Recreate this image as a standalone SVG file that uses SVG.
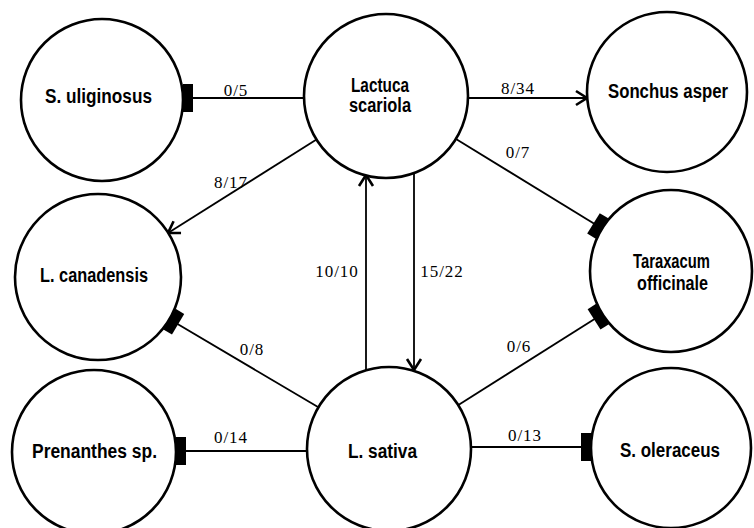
<svg xmlns="http://www.w3.org/2000/svg" width="754" height="528" viewBox="0 0 754 528">
<style>
.node{fill:#fff;stroke:#000;stroke-width:2.6}
.nl{font-family:"Liberation Sans Narrow","Liberation Sans",Arial,sans-serif;font-weight:bold;font-size:20px;text-anchor:middle;fill:#000}
.edge{stroke:#000;stroke-width:1.8;fill:none}
.el{font-family:"Liberation Serif","Times New Roman",serif;font-size:17px;letter-spacing:1px;text-anchor:middle;fill:#000}
</style>
<defs>
<marker id="arrow" markerUnits="userSpaceOnUse" markerWidth="16" markerHeight="18" viewBox="-14 -9 16 18" refX="0" refY="0" orient="auto">
<path d="M-11,-7 L0,0 L-11,7" fill="none" stroke="#000" stroke-width="2.6"/>
</marker>
<marker id="barH" markerUnits="userSpaceOnUse" markerWidth="12" markerHeight="30" viewBox="-11 -15 12 30" refX="0" refY="0" orient="auto">
<rect x="-10" y="-14" width="10" height="28" fill="#000"/>
</marker>
<marker id="barD" markerUnits="userSpaceOnUse" markerWidth="13" markerHeight="28" viewBox="-12 -14 13 28" refX="0" refY="0" orient="auto">
<rect x="-10" y="-12" width="10" height="24" fill="#000"/>
</marker>
</defs>
<g id="connectors">
<line class="edge" x1="304" y1="98" x2="183" y2="98" marker-end="url(#barH)"/>
<line class="edge" x1="468" y1="98" x2="587" y2="98" marker-end="url(#arrow)"/>
<line class="edge" x1="316.5" y1="139.6" x2="168" y2="233" marker-end="url(#arrow)"/>
<line class="edge" x1="456" y1="139" x2="602" y2="228.6" marker-end="url(#barD)"/>
<line class="edge" x1="366" y1="370" x2="366" y2="175" marker-end="url(#arrow)"/>
<line class="edge" x1="414" y1="173" x2="414" y2="370" marker-end="url(#arrow)"/>
<line class="edge" x1="318.4" y1="407.3" x2="169.5" y2="319.2" marker-end="url(#barD)"/>
<line class="edge" x1="458.4" y1="405" x2="602.5" y2="314" marker-end="url(#barD)"/>
<line class="edge" x1="307" y1="451" x2="176" y2="451" marker-end="url(#barH)"/>
<line class="edge" x1="471" y1="447" x2="591" y2="447" marker-end="url(#barH)"/>
<text class="el" x="236" y="96">0/5</text>
<text class="el" x="518" y="94">8/34</text>
<text class="el" x="231" y="188">8/17</text>
<text class="el" x="518" y="158">0/7</text>
<text class="el" x="337" y="277">10/10</text>
<text class="el" x="442" y="277">15/22</text>
<text class="el" x="252" y="355">0/8</text>
<text class="el" x="231" y="443">0/14</text>
<text class="el" x="519" y="352">0/6</text>
<text class="el" x="525" y="441">0/13</text>
</g>
<g id="lactuca-scariola">
<circle class="node" cx="386" cy="96" r="82"/>
<text class="nl" x="380" y="92" textLength="58" lengthAdjust="spacingAndGlyphs">Lactuca</text>
<text class="nl" x="380" y="112" textLength="62" lengthAdjust="spacingAndGlyphs">scariola</text>
</g>
<g id="s-uliginosus">
<circle class="node" cx="102" cy="100" r="81"/>
<text class="nl" x="98.5" y="103" textLength="107" lengthAdjust="spacingAndGlyphs">S. uliginosus</text>
</g>
<g id="sonchus-asper">
<circle class="node" cx="667" cy="92" r="80"/>
<text class="nl" x="668" y="98" textLength="120" lengthAdjust="spacingAndGlyphs">Sonchus asper</text>
</g>
<g id="l-canadensis">
<circle class="node" cx="98" cy="277" r="83"/>
<text class="nl" x="94" y="282" textLength="108" lengthAdjust="spacingAndGlyphs">L. canadensis</text>
</g>
<g id="taraxacum-officinale">
<circle class="node" cx="671" cy="271" r="81"/>
<text class="nl" x="671.5" y="268" textLength="77" lengthAdjust="spacingAndGlyphs">Taraxacum</text>
<text class="nl" x="672.5" y="290" textLength="71" lengthAdjust="spacingAndGlyphs">officinale</text>
</g>
<g id="prenanthes-sp">
<circle class="node" cx="94" cy="452" r="82"/>
<text class="nl" x="94.5" y="458" textLength="125" lengthAdjust="spacingAndGlyphs">Prenanthes sp.</text>
</g>
<g id="l-sativa">
<circle class="node" cx="389" cy="449" r="82"/>
<text class="nl" x="382.5" y="458" textLength="69" lengthAdjust="spacingAndGlyphs">L. sativa</text>
</g>
<g id="s-oleraceus">
<circle class="node" cx="671" cy="448" r="80"/>
<text class="nl" x="670" y="457" textLength="100" lengthAdjust="spacingAndGlyphs">S. oleraceus</text>
</g>
</svg>
